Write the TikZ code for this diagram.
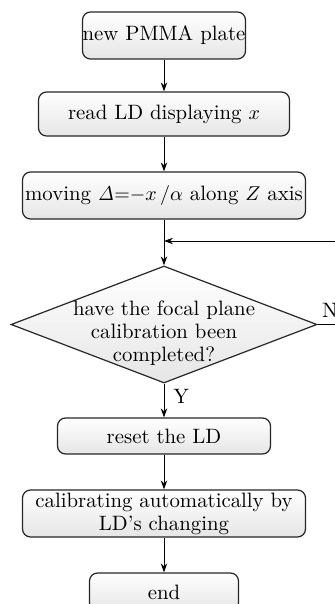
\documentclass[tikz,border=0pt]{standalone}
\usetikzlibrary{shapes.geometric,arrows.meta}
\begin{document}
\begin{tikzpicture}[x=0.5pt,y=-0.5pt,
  txt/.style={font=\fontsize{10.4}{11.5}\selectfont, align=center},
  box/.style={txt, draw=black!85, line width=0.6pt, rounded corners=4pt,
    top color=white, bottom color=black!10, inner sep=0pt},
  dia/.style={diamond, draw=black!85, line width=0.6pt, top color=white,
    bottom color=black!10, inner sep=0pt, shape aspect=2.6},
  arr/.style={-{Stealth[length=4.5pt,width=3.2pt]}, line width=0.5pt},
  ln/.style={line width=0.5pt}]
\clip (0,0) rectangle (335,604);
\node[box, minimum width=81.5pt, minimum height=23.5pt] (n1) at (164,35.5) {new PMMA plate};
\node[box, minimum width=125.5pt, minimum height=22pt] (n2) at (164,114) {read LD displaying $x$};
\node[box, minimum width=141.5pt, minimum height=23.5pt] (n3) at (164,195.5) {moving $\mathit{\Delta}{=}{-}x\,/\alpha$ along $Z$ axis};
\node[dia, minimum width=153pt, minimum height=58.5pt] (d) at (164,324.5) {};
\node[txt, inner sep=0pt] (dt) at (164,333) {have the focal plane\\calibration been\\completed?};
\node[box, minimum width=106.5pt, minimum height=18pt] (n4) at (164,436) {reset the LD};
\node[box, minimum width=141.5pt, minimum height=23.5pt] (n5) at (164,513.5) {calibrating automatically by\\LD's changing};
\node[box, minimum width=74.5pt, minimum height=19pt] (n6) at (164,592) {end};
\coordinate (fb) at (340,241);
\coordinate (nr) at (340,324.5);
\draw[arr] (n1.south) -- (n2.north);
\draw[arr] (n2.south) -- (n3.north);
\draw[arr] (n3.south) -- (d.north);
\draw[ln] (d.east) -- (nr);
\draw[arr] (fb) -- (fb -| n3.south);
\draw[arr] (d.south) -- (n4.north);
\draw[arr] (n4.south) -- (n5.north);
\draw[arr] (n5.south) -- (n6.north);
\node[txt, anchor=south west, inner sep=0pt] (N) at ([xshift=2pt,yshift=3.5pt]d.east) {N};
\node[txt, anchor=north west, inner sep=0pt] (Y) at ([xshift=4.5pt,yshift=-2.5pt]d.south) {Y};
\end{tikzpicture}
\end{document}
